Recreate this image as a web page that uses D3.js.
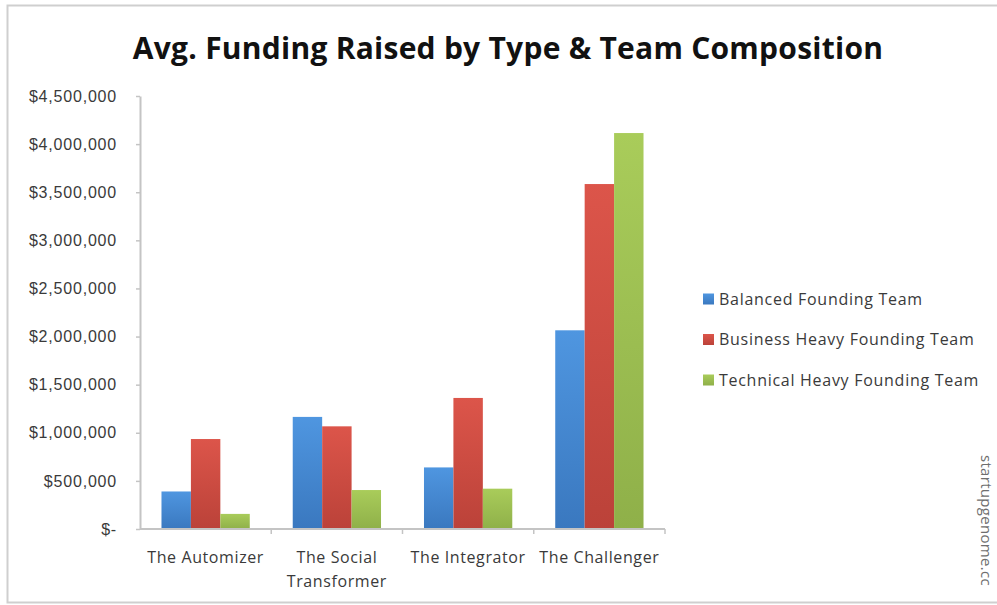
<!DOCTYPE html>
<html>
<head>
<meta charset="utf-8">
<script src="https://cdn.jsdelivr.net/npm/d3@7"></script>
<style>
  body { margin: 0; background: #fff; }
  svg { display: block; font-family: "Open Sans", sans-serif; }
</style>
</head>
<body>
<div id="chart"></div>
<script>
// data
const categories = ["The Automizer", "The Social Transformer", "The Integrator", "The Challenger"];
const seriesNames = ["Balanced Founding Team", "Business Heavy Founding Team", "Technical Heavy Founding Team"];
const balanced = [390000, 1165000, 640000, 2065000];
const businessHeavy = [935000, 1067000, 1362000, 3585000];
const technicalHeavy = [157000, 405000, 419000, 4115000];
const yTicks = [0, 500000, 1000000, 1500000, 2000000, 2500000, 3000000, 3500000, 4000000, 4500000];

const seriesValues = [balanced, businessHeavy, technicalHeavy];
const colors = [
  {top: "#4f96e0", bottom: "#3a78bf"},
  {top: "#dc554a", bottom: "#bb4239"},
  {top: "#a9cc5a", bottom: "#8fb049"}
];

const width = 997, height = 605;
const margin = {top: 96, right: 332, bottom: 76, left: 140};

const svg = d3.select("#chart")
  .append("svg")
  .attr("width", width)
  .attr("height", height);

// chart frame
svg.append("rect")
  .attr("x", 7.5).attr("y", 5.5)
  .attr("width", 1000).attr("height", 597)
  .attr("fill", "none")
  .attr("stroke", "#cfcfcf")
  .attr("stroke-width", 2);

// gradients for the bars
const defs = svg.append("defs");
colors.forEach(function(c, i) {
  const g = defs.append("linearGradient")
    .attr("id", "grad" + i)
    .attr("x1", 0).attr("y1", 0).attr("x2", 0).attr("y2", 1);
  g.append("stop").attr("offset", "0%").attr("stop-color", c.top);
  g.append("stop").attr("offset", "100%").attr("stop-color", c.bottom);
});

// scales
const x0 = d3.scaleBand()
  .domain(categories)
  .range([margin.left, width - margin.right])
  .paddingInner(0)
  .paddingOuter(0);

const x1 = d3.scaleBand()
  .domain(d3.range(seriesNames.length))
  .range([0, x0.bandwidth()])
  .paddingInner(0)
  .paddingOuter(0.73);

const y = d3.scaleLinear()
  .domain([0, 4500000])
  .range([height - margin.bottom, margin.top]);

// title
svg.append("text")
  .attr("x", 508)
  .attr("y", 59)
  .attr("text-anchor", "middle")
  .style("font-size", "30px")
  .style("letter-spacing", "0.25px")
  .style("font-weight", "bold")
  .attr("fill", "#111")
  .text("Avg. Funding Raised by Type & Team Composition");

// y axis
const yAxis = svg.append("g")
  .attr("transform", `translate(${margin.left},0)`)
  .call(d3.axisLeft(y)
    .tickValues(yTicks)
    .tickSize(4)
    .tickSizeOuter(0)
    .tickPadding(19)
    .tickFormat(d => d === 0 ? "$-" : "$" + d3.format(",")(d)));
yAxis.select(".domain").attr("stroke", "#c4c4c4").attr("stroke-width", 2);
yAxis.selectAll(".tick line").attr("stroke", "#c4c4c4").attr("stroke-width", 1.5);
yAxis.selectAll(".tick text")
  .style("font-size", "16px")
  .style("letter-spacing", "0.8px")
  .attr("fill", "#3a3a3a");

// bars
svg.append("g")
  .selectAll("g")
  .data(categories)
  .join("g")
    .attr("transform", d => `translate(${x0(d)},0)`)
  .selectAll("rect")
  .data((d, ci) => seriesValues.map((vals, si) => ({si: si, v: vals[ci]})))
  .join("rect")
    .attr("x", d => x1(d.si))
    .attr("y", d => y(d.v))
    .attr("width", x1.bandwidth())
    .attr("height", d => y(0) - y(d.v))
    .attr("fill", d => `url(#grad${d.si})`);

// x axis line + boundary ticks
const xAxis = svg.append("g");
xAxis.append("line")
  .attr("x1", margin.left).attr("x2", width - margin.right)
  .attr("y1", y(0)).attr("y2", y(0))
  .attr("stroke", "#c4c4c4").attr("stroke-width", 2);
const bounds = categories.map(c => x0(c)).concat([x0.range()[1]]).slice(1);
xAxis.selectAll(".xt")
  .data(bounds)
  .join("line")
    .attr("class", "xt")
    .attr("x1", d => d).attr("x2", d => d)
    .attr("y1", y(0)).attr("y2", y(0) + 5)
    .attr("stroke", "#c4c4c4").attr("stroke-width", 1.5);

// category labels (wrapped to the band width)
xAxis.selectAll(".xl")
  .data(categories)
  .join("text")
    .attr("class", "xl")
    .attr("x", d => x0(d) + x0.bandwidth() / 2)
    .attr("y", y(0) + 34)
    .attr("text-anchor", "middle")
    .style("font-size", "16px")
    .style("letter-spacing", "0.6px")
    .attr("fill", "#3a3a3a")
    .each(function(d) {
      const t = d3.select(this);
      const words = d.split(" ");
      let line = [];
      let tspan = t.append("tspan").attr("x", t.attr("x")).attr("dy", 0);
      words.forEach(function(w) {
        line.push(w);
        tspan.text(line.join(" "));
        if (tspan.node().getComputedTextLength() > x0.bandwidth() - 4 && line.length > 1) {
          line.pop();
          tspan.text(line.join(" "));
          line = [w];
          tspan = t.append("tspan").attr("x", t.attr("x")).attr("dy", 24).text(w);
        }
      });
    });

// legend
const legend = svg.append("g")
  .selectAll("g")
  .data(seriesNames)
  .join("g")
    .attr("transform", (d, i) => `translate(703,${299 + i * 40.5})`);
legend.append("rect")
  .attr("x", 0).attr("y", -5.5)
  .attr("width", 11).attr("height", 11)
  .attr("fill", (d, i) => `url(#grad${i})`);
legend.append("text")
  .attr("x", 16)
  .attr("y", 0)
  .attr("dy", "0.36em")
  .style("font-size", "16px")
  .style("letter-spacing", "0.72px")
  .attr("fill", "#3a3a3a")
  .text(d => d);

// watermark
svg.append("text")
  .attr("transform", "translate(981,455) rotate(90)")
  .style("font-size", "15px")
  .style("letter-spacing", "0.3px")
  .attr("fill", "#6e6e6e")
  .text("startupgenome.cc");
</script>
</body>
</html>
